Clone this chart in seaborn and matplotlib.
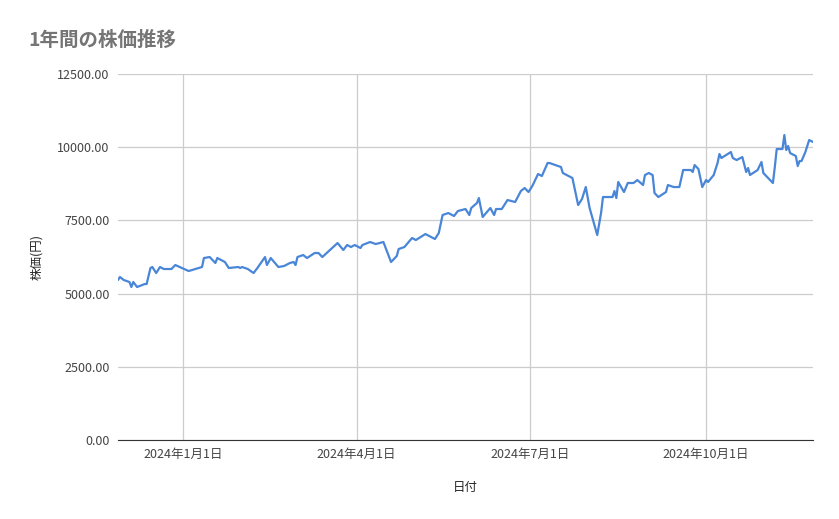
import pandas as pd
import matplotlib
matplotlib.use('Agg')
from matplotlib import pyplot as plt
import seaborn as sns

# data
dates = ['2023-11-28', '2023-11-29', '2023-12-01', '2023-12-04', '2023-12-05', '2023-12-06', '2023-12-08',
         '2023-12-12', '2023-12-13', '2023-12-15', '2023-12-16', '2023-12-18', '2023-12-20', '2023-12-22',
         '2023-12-26', '2023-12-28', '2024-01-04', '2024-01-11', '2024-01-12', '2024-01-15', '2024-01-18',
         '2024-01-19', '2024-01-23', '2024-01-25', '2024-01-30', '2024-01-31', '2024-02-01', '2024-02-04',
         '2024-02-07', '2024-02-09', '2024-02-13', '2024-02-14', '2024-02-16', '2024-02-20', '2024-02-23',
         '2024-02-26', '2024-02-28', '2024-02-29', '2024-03-01', '2024-03-04', '2024-03-06', '2024-03-10',
         '2024-03-12', '2024-03-14', '2024-03-18', '2024-03-22', '2024-03-25', '2024-03-27', '2024-03-29',
         '2024-03-31', '2024-04-03', '2024-04-04', '2024-04-08', '2024-04-11', '2024-04-15', '2024-04-17',
         '2024-04-19', '2024-04-22', '2024-04-23', '2024-04-26', '2024-04-30', '2024-05-02', '2024-05-07',
         '2024-05-10', '2024-05-12', '2024-05-14', '2024-05-16', '2024-05-19', '2024-05-22', '2024-05-24',
         '2024-05-28', '2024-05-30', '2024-05-31', '2024-06-03', '2024-06-04', '2024-06-06', '2024-06-10',
         '2024-06-12', '2024-06-13', '2024-06-16', '2024-06-19', '2024-06-23', '2024-06-26', '2024-06-28',
         '2024-06-30', '2024-07-02', '2024-07-05', '2024-07-07', '2024-07-10', '2024-07-11', '2024-07-17',
         '2024-07-18', '2024-07-23', '2024-07-26', '2024-07-28', '2024-07-30', '2024-08-01', '2024-08-05',
         '2024-08-07', '2024-08-08', '2024-08-13', '2024-08-14', '2024-08-15', '2024-08-16', '2024-08-19',
         '2024-08-21', '2024-08-24', '2024-08-26', '2024-08-29', '2024-08-30', '2024-09-01', '2024-09-03',
         '2024-09-04', '2024-09-06', '2024-09-10', '2024-09-11', '2024-09-14', '2024-09-17', '2024-09-19',
         '2024-09-23', '2024-09-24', '2024-09-25', '2024-09-27', '2024-09-29', '2024-10-01', '2024-10-02',
         '2024-10-05', '2024-10-07', '2024-10-08', '2024-10-09', '2024-10-14', '2024-10-15', '2024-10-17',
         '2024-10-20', '2024-10-22', '2024-10-23', '2024-10-24', '2024-10-28', '2024-10-30', '2024-10-31',
         '2024-11-05', '2024-11-06', '2024-11-07', '2024-11-10', '2024-11-11', '2024-11-12', '2024-11-13',
         '2024-11-14', '2024-11-17', '2024-11-18', '2024-11-19', '2024-11-20', '2024-11-22', '2024-11-24',
         '2024-11-26']
prices = [5464, 5567, 5464, 5396, 5225, 5396, 5225,
          5327, 5327, 5874, 5908, 5703, 5908, 5840,
          5840, 5976, 5771, 5908, 6215, 6249, 6045,
          6215, 6079, 5874, 5908, 5874, 5908, 5840,
          5703, 5874, 6249, 5976, 6215, 5908, 5942,
          6045, 6079, 5976, 6249, 6318, 6215, 6386,
          6386, 6249, 6489, 6727, 6489, 6659, 6591,
          6659, 6557, 6659, 6762, 6693, 6762, 6420,
          6079, 6284, 6523, 6591, 6898, 6830, 7035,
          6932, 6864, 7069, 7684, 7752, 7650, 7820,
          7889, 7684, 7923, 8094, 8264, 7616, 7923,
          7684, 7889, 7889, 8196, 8128, 8503, 8606,
          8469, 8674, 9084, 9016, 9460, 9460, 9323,
          9118, 8947, 8025, 8230, 8640, 7923, 7001,
          7752, 8298, 8298, 8503, 8264, 8811, 8469,
          8777, 8777, 8879, 8708, 9050, 9118, 9050,
          8435, 8298, 8469, 8708, 8640, 8640, 9221,
          9221, 9152, 9391, 9255, 8640, 8879, 8811,
          9050, 9460, 9767, 9630, 9835, 9630, 9562,
          9664, 9152, 9289, 9050, 9221, 9494, 9118,
          8777, 9323, 9938, 9938, 10416, 9904, 10040,
          9801, 9699, 9357, 9528, 9528, 9835, 10245,
          10177]
x_ticks = ['2024-01-01', '2024-04-01', '2024-07-01', '2024-10-01']
x_tick_labels = ['2024年1月1日', '2024年4月1日', '2024年7月1日', '2024年10月1日']
y_ticks = [0, 2500, 5000, 7500, 10000, 12500]

df = pd.DataFrame({'日付': pd.to_datetime(dates), '株価': prices})

sns.set_style('white')
plt.rcParams['font.family'] = ['Noto Sans CJK JP', 'DejaVu Sans']

fig = plt.figure(figsize=(8.39, 5.19), dpi=100)
ax = fig.add_axes([118 / 839, 1 - 440 / 519, 695 / 839, 366 / 519])
sns.lineplot(data=df, x='日付', y='株価', ax=ax, color='#4a86d8', linewidth=1.6)

ax.set_xlim(pd.Timestamp('2023-11-28'), pd.Timestamp('2024-11-26'))
ax.set_ylim(0, 12500)
ax.set_yticks(y_ticks)
ax.set_yticklabels([f'{v:.2f}' for v in y_ticks], fontsize=9, color='#444444')
ax.set_xticks(pd.to_datetime(x_ticks))
ax.set_xticklabels(x_tick_labels, fontsize=9, color='#444444')
ax.tick_params(length=0, pad=6)
ax.grid(True, color='#cccccc', linewidth=0.9)
for s in ['top', 'right', 'left']:
    ax.spines[s].set_visible(False)
ax.spines['bottom'].set_color('#333333')
ax.set_xlabel('日付', fontsize=9, labelpad=14)
ax.set_ylabel('株価(円)', fontsize=9, labelpad=10)

fig.text(28 / 839, 1 - 40 / 519, '1年間の株価推移', fontsize=14, color='#757575', fontweight='bold', va='center')

fig.savefig('out.png', dpi=100)
